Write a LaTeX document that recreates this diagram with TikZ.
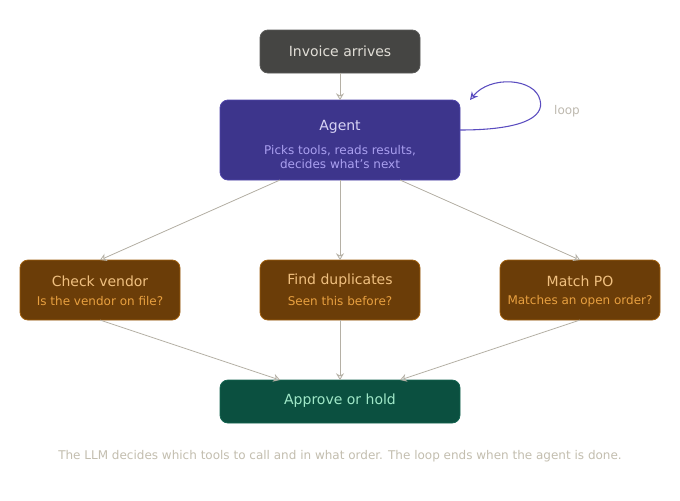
\documentclass[tikz,border=0pt]{standalone}
\usepackage{fontspec}
\setmainfont{DejaVu Sans}
\usetikzlibrary{arrows.meta}
\definecolor{edge}{HTML}{B5B0A5}
\definecolor{loopc}{HTML}{5A4CC0}
\begin{document}
\begin{tikzpicture}[x=0.75pt,y=-0.75pt,
 box/.style={rounded corners=6pt,draw,line width=0.6pt,align=center,inner sep=0pt},
 conn/.style={draw=edge,line width=0.6pt,-{Stealth[length=5pt,width=6pt,open]}},
 ttl/.style={font=\fontsize{10.5pt}{12pt}\selectfont},
 sub/.style={font=\fontsize{9pt}{11pt}\selectfont}]
\useasboundingbox (0,0) rectangle (680,500);
\fill[white] (0,0) rectangle (680,500);
% boxes
\draw[box,fill={rgb,255:red,69;green,69;blue,67},draw={rgb,255:red,90;green,90;blue,88}] (260,30) rectangle (420,73);
\node[ttl,text={rgb,255:red,225;green,222;blue,215}] (inv) at (340,51) {Invoice arrives};
\coordinate (invb) at (340,73);
\draw[box,fill={rgb,255:red,61;green,53;blue,140},draw={rgb,255:red,80;green,70;blue,170}] (220,100) rectangle (460,180);
\node[ttl,text={rgb,255:red,216;green,212;blue,245}] (ag) at (340,127) {Agent};
\node[sub,align=center,text={rgb,255:red,170;green,160;blue,240}] (agsub) at (340,157) {Picks tools, reads results,\\decides what's next};
\coordinate (agt) at (340,100);
\coordinate (agb1) at (280,180);\coordinate (agb2) at (340,180);\coordinate (agb3) at (400,180);
\coordinate (agr) at (460,130);
\foreach \n/\x/\t/\s in {cv/100/Check vendor/Is the vendor on file?, fd/340/Find duplicates/Seen this before?, mp/580/Match PO/Matches an open order?}{
 \draw[box,fill={rgb,255:red,107;green,61;blue,8},draw={rgb,255:red,160;green,96;blue,15}] (\x-80,260) rectangle (\x+80,320);
 \node[ttl,text={rgb,255:red,240;green,192;blue,128}] (\n) at (\x,281) {\t};
 \node[sub,text={rgb,255:red,232;green,160;blue,64}] (\n s) at (\x,301) {\s};
 \coordinate (\n t) at (\x,260); \coordinate (\n b) at (\x,320);
}
\draw[box,fill={rgb,255:red,11;green,80;blue,64},draw={rgb,255:red,20;green,100;blue,80}] (220,380) rectangle (460,423);
\node[ttl,text={rgb,255:red,160;green,232;blue,200}] (ap) at (340,401) {Approve or hold};
\coordinate (ap1) at (280,380);\coordinate (ap2) at (340,380);\coordinate (ap3) at (400,380);
% edges
\draw[conn] (invb) -- (agt);
\draw[conn] (agb1) -- (cvt);
\draw[conn] (agb2) -- (fdt);
\draw[conn] (agb3) -- (mpt);
\draw[conn] (cvb) -- (ap1);
\draw[conn] (fdb) -- (ap2);
\draw[conn] (mpb) -- (ap3);
% loop
\coordinate (lp) at (470,100);
\draw[loopc,line width=0.8pt,-{Stealth[length=6pt,width=6pt,open]}] (agr) .. controls (520,130) and (545,118) .. (540,100) .. controls (535,78) and (490,75) .. (lp);
\node[sub,text={rgb,255:red,190;green,185;blue,175}] (loop) at (567,111) {loop};
\node[sub,text={rgb,255:red,195;green,190;blue,175}] (foot) at (340,456) {The LLM decides which tools to call and in what order. The loop ends when the agent is done.};
\end{tikzpicture}
\end{document}
